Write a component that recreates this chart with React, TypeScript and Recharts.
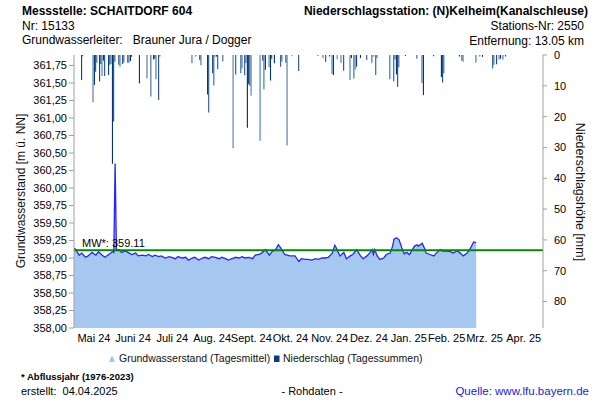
import React from 'react';
import { ComposedChart, Area, Bar, XAxis, YAxis, ReferenceLine } from 'recharts';

const FONT = '"Liberation Sans", Arial, Helvetica, sans-serif';

// Groundwater level (daily mean), day index counted from 1 May 2024
const gwDays = [0, 1, 4, 6, 9, 11, 14, 17, 19, 22, 24, 27, 30, 31, 32, 33, 35, 37, 40, 43, 45, 48, 50, 53, 56, 58, 61, 63, 66, 68, 71, 74, 76, 79, 81, 84, 87, 89, 92, 94, 97, 100, 102, 105, 107, 110, 113, 115, 118, 120, 123, 126, 128, 131, 133, 136, 139, 141, 144, 146, 149, 152, 154, 157, 159, 161, 164, 168, 172, 175, 177, 180, 182, 185, 188, 190, 193, 195, 198, 201, 203, 204, 207, 210, 212, 215, 217, 220, 223, 225, 228, 230, 232, 233, 234, 236, 238, 241, 243, 246, 248, 249, 251, 253, 255, 257, 259, 261, 263, 265, 267, 268, 271, 273, 274, 277, 280, 282, 285, 287, 290, 293, 295, 298, 300, 303, 306, 308, 311, 313];
const gwLevels = [359.14, 359.13, 359.04, 359.07, 359.01, 359.03, 359.08, 359.04, 359.09, 359.04, 359.01, 359.05, 359.09, 359.08, 360.35, 359.12, 359.12, 359.08, 359.10, 359.07, 359.05, 359.07, 359.03, 359.04, 359.03, 359.05, 359.02, 359.04, 359.02, 359.03, 359.00, 359.02, 359.01, 358.99, 359.02, 359.00, 359.01, 358.97, 359.00, 359.01, 358.97, 359.00, 359.01, 358.99, 359.02, 359.01, 358.99, 359.01, 358.99, 358.97, 358.99, 359.01, 359.00, 359.02, 359.00, 359.01, 358.99, 359.04, 359.05, 359.07, 359.12, 359.04, 359.09, 359.12, 359.19, 359.14, 359.05, 359.03, 359.03, 358.95, 358.99, 358.98, 358.98, 358.97, 358.99, 358.98, 359.00, 359.00, 359.01, 359.07, 359.18, 359.15, 359.03, 359.08, 358.99, 359.03, 359.05, 359.12, 359.03, 358.99, 359.03, 359.07, 359.12, 359.05, 359.12, 359.03, 358.98, 359.00, 359.05, 359.07, 359.17, 359.27, 359.29, 359.26, 359.15, 359.06, 359.08, 359.05, 359.11, 359.17, 359.19, 359.17, 359.21, 359.13, 359.07, 359.05, 359.03, 359.07, 359.12, 359.10, 359.10, 359.09, 359.07, 359.10, 359.08, 359.03, 359.07, 359.12, 359.23, 359.22];

// Daily precipitation sums [mm]
const rainDays = [6, 7, 15, 16, 17, 18, 20, 21, 22, 23, 24, 27, 28, 29, 30, 31, 32, 35, 36, 38, 39, 42, 43, 44, 45, 51, 57, 60, 62, 63, 64, 66, 67, 92, 95, 98, 99, 104, 105, 108, 109, 110, 111, 112, 116, 124, 126, 130, 131, 133, 134, 135, 136, 137, 138, 145, 147, 148, 149, 152, 153, 154, 156, 161, 162, 165, 166, 170, 175, 190, 194, 196, 199, 201, 202, 205, 208, 210, 215, 216, 218, 219, 220, 223, 228, 232, 233, 235, 236, 246, 249, 250, 251, 252, 253, 258, 267, 271, 272, 280, 286, 287, 288, 300, 302, 303, 313, 316, 318, 326, 327, 329, 331, 332, 334, 336];
const rainMm = [8.1, 0.4, 15.3, 9.7, 5.4, 2.5, 8.6, 2.9, 6.8, 1.8, 6.8, 6.5, 3.2, 2.9, 35.3, 21.6, 2.2, 3.2, 3.8, 2.9, 2.4, 2.5, 2.5, 2.0, 0.6, 9.2, 7.6, 13.5, 1.5, 1.2, 7.9, 14.6, 0.5, 2.7, 0.5, 1.6, 3.3, 12.8, 18.7, 5.9, 9.9, 0.6, 0.5, 4.6, 2.1, 30.3, 6.3, 5.9, 4.3, 6.6, 2.6, 23.6, 9.5, 10.0, 13.2, 27.8, 1.8, 11.1, 4.8, 4.0, 8.3, 1.2, 2.7, 3.8, 2.1, 2.5, 29.4, 0.4, 5.2, 0.3, 1.0, 2.3, 0.5, 6.2, 6.5, 1.4, 2.5, 5.1, 8.1, 1.0, 7.6, 4.8, 3.8, 1.0, 1.6, 2.5, 0.6, 6.5, 1.0, 7.9, 8.6, 1.5, 6.3, 10.3, 4.0, 0.3, 1.2, 9.2, 13.0, 0.4, 7.2, 8.9, 5.9, 0.5, 1.9, 2.2, 2.4, 0.5, 0.6, 4.4, 3.2, 3.0, 1.5, 1.2, 1.5, 0.5];

const monthStarts = [0, 31, 61, 92, 123, 153, 184, 214, 245, 276, 304, 335, 365];
const monthLabels = ['Mai 24', 'Juni 24', 'Juli 24', 'Aug. 24', 'Sept. 24', 'Okt. 24', 'Nov. 24', 'Dez. 24', 'Jan. 25', 'Feb. 25', 'Mrz. 25', 'Apr. 25'];
const levelTicks = [358, 358.25, 358.5, 358.75, 359, 359.25, 359.5, 359.75, 360, 360.25, 360.5, 360.75, 361, 361.25, 361.5, 361.75];
const rainTicks = [0, 10, 20, 30, 40, 50, 60, 70, 80];
const MW = 359.11;

const monthMids = monthLabels.map((_, i) => (monthStarts[i] + monthStarts[i + 1]) / 2);

const rows = (() => {
  const map = new Map<number, any>();
  gwDays.forEach((d, i) => map.set(d, { ...(map.get(d) || { day: d }), gw: gwLevels[i] }));
  rainDays.forEach((d, i) => map.set(d, { ...(map.get(d) || { day: d }), rain: rainMm[i] }));
  return Array.from(map.values()).sort((a, b) => a.day - b.day);
})();

const fmtLevel = (v: number) => v.toFixed(2).replace('.', ',');
const fmtMonth = (v: number) => {
  const i = monthMids.indexOf(v);
  return i >= 0 ? monthLabels[i] : '';
};

const MwLabel = (props: any) => {
  const vb = props.viewBox || { x: 0, y: 0 };
  return (
    <text x={vb.x + 8} y={vb.y - 3} fontSize={11} fontFamily={FONT} fill="#000">
      {`MW*: ${MW.toFixed(2)}`}
    </text>
  );
};

const GRID = '#a0a0a0';

export default function App() {
  return (
    <div style={{ position: 'absolute', left: 0, top: 0, width: 600, height: 400, background: '#fff' }}>
      <ComposedChart width={600} height={400} data={rows} margin={{ top: 55, right: 0, bottom: 52, left: 0 }}>
        <defs>
          <linearGradient id="rainGrad" x1="0" y1="0" x2="1" y2="0">
            <stop offset="0" stopColor="#043676" />
            <stop offset="0.6" stopColor="#043676" />
            <stop offset="0.6" stopColor="#6e9fd6" />
            <stop offset="1" stopColor="#6e9fd6" />
          </linearGradient>
        </defs>
        <XAxis
          dataKey="day"
          type="number"
          domain={[0, 365]}
          allowDataOverflow
          ticks={monthStarts}
          interval={0}
          tick={false}
          tickSize={4}
          height={0}
          stroke={GRID}
        />
        <XAxis
          xAxisId="m"
          dataKey="day"
          type="number"
          domain={[0, 365]}
          allowDataOverflow
          ticks={monthMids}
          interval={0}
          tickFormatter={fmtMonth}
          tickLine={false}
          axisLine={false}
          tickSize={5}
          tickMargin={1}
          height={20}
          tick={{ fontSize: 11, fill: '#000', fontFamily: FONT }}
        />
        <XAxis
          xAxisId="t"
          orientation="top"
          dataKey="day"
          type="number"
          domain={[0, 365]}
          allowDataOverflow
          tick={false}
          tickLine={false}
          height={0}
          stroke={GRID}
        />
        <YAxis
          yAxisId="left"
          type="number"
          domain={[358, 361.9]}
          allowDataOverflow
          ticks={levelTicks}
          interval={0}
          tickFormatter={fmtLevel}
          width={74}
          tickSize={5}
          tickMargin={2}
          stroke={GRID}
          tick={{ fontSize: 11, fill: '#000', fontFamily: FONT }}
        />
        <YAxis
          yAxisId="right"
          orientation="right"
          type="number"
          domain={[0, 88.6]}
          reversed
          allowDataOverflow
          ticks={rainTicks}
          interval={0}
          width={57}
          tickSize={4}
          tickMargin={7}
          stroke={GRID}
          tick={{ fontSize: 11, fill: '#000', fontFamily: FONT, textAnchor: 'start' }}
        />
        <Area
          yAxisId="left"
          type="linear"
          dataKey="gw"
          stroke="#2424ff"
          strokeWidth={1.3}
          fill="#a6c8f0"
          fillOpacity={1}
          connectNulls
          dot={false}
          activeDot={false}
          isAnimationActive={false}
        />
        <Bar
          yAxisId="right"
          dataKey="rain"
          barSize={2}
          fill="url(#rainGrad)"
          isAnimationActive={false}
        />
        <ReferenceLine yAxisId="left" y={MW} stroke="#008a00" strokeWidth={2} label={<MwLabel />} />
      </ComposedChart>
      <svg
        width={600}
        height={400}
        style={{ position: 'absolute', left: 0, top: 0, pointerEvents: 'none' }}
        fontFamily={FONT}
      >
        <text x={22} y={15} fontSize={12} fontWeight="bold" fill="#000">Messstelle: SCHAITDORF 604</text>
        <text x={22} y={29.5} fontSize={12} fill="#000">Nr: 15133</text>
        <text x={22} y={44} fontSize={12} fill="#000" style={{ whiteSpace: 'pre' }}>{'Grundwasserleiter:   Brauner Jura / Dogger'}</text>
        <text x={588} y={15} fontSize={12} fontWeight="bold" fill="#000" textAnchor="end">Niederschlagsstation: (N)Kelheim(Kanalschleuse)</text>
        <text x={584} y={30} fontSize={12} fill="#000" textAnchor="end">Stations-Nr: 2550</text>
        <text x={584} y={44.5} fontSize={12} fill="#000" textAnchor="end">Entfernung: 13.05 km</text>

        <text x={25} y={191} fontSize={12} fill="#111" textAnchor="middle" transform="rotate(-90 25 191)">Grundwasserstand [m ü. NN]</text>
        <text x={576} y={192} fontSize={12.5} fill="#111" textAnchor="middle" transform="rotate(90 576 192)">Niederschlagshöhe [mm]</text>

        <path d="M109,362 L111.2,356.8 Q112,355.4 112.8,356.8 L115,362 Z" fill="#a6c8f0" />
        <text x={119} y={362} fontSize={10.5} fill="#111">Grundwasserstand (Tagesmittel)</text>
        <rect x={274} y={355.5} width={5.5} height={6.5} fill="#0b3d7c" />
        <text x={283} y={362} fontSize={10.5} fill="#111">Niederschlag (Tagessummen)</text>

        <text x={21} y={380} fontSize={9.5} fontWeight="bold" fill="#000">* Abflussjahr (1976-2023)</text>
        <text x={21} y={395} fontSize={11} fill="#000" style={{ whiteSpace: 'pre' }}>{'erstellt:  04.04.2025'}</text>
        <text x={312} y={395} fontSize={11} fill="#000" textAnchor="middle">- Rohdaten -</text>
        <text x={589} y={395} fontSize={11.5} fill="#1a1ae0" textAnchor="end">Quelle: www.lfu.bayern.de</text>
      </svg>
    </div>
  );
}
